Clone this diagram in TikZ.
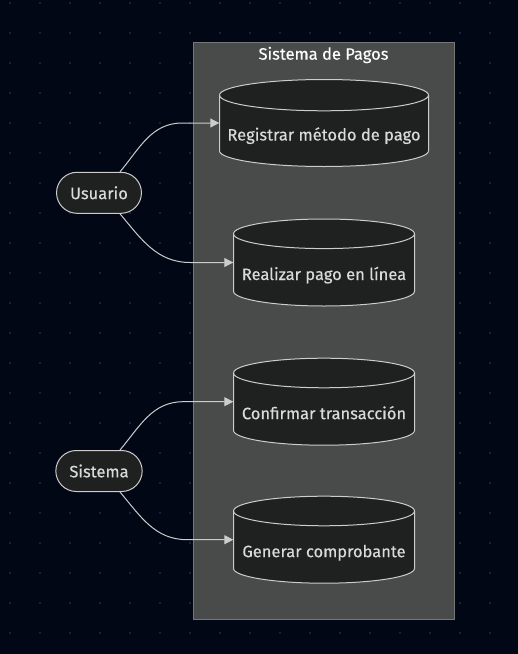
\documentclass[tikz,border=0pt]{standalone}
\usepackage{fontspec}
\setmainfont{Fira Sans}[BoldFont={Fira Sans}, BoldFeatures={FakeBold=0.35}]
\usetikzlibrary{shapes.misc,arrows.meta}
\definecolor{bgnavy}{RGB}{2,7,22}
\definecolor{gridpt}{RGB}{38,44,60}
\definecolor{clusterbg}{RGB}{73,74,74}
\definecolor{clusterln}{RGB}{118,120,120}
\definecolor{nodebg}{RGB}{31,32,32}
\definecolor{nodeln}{RGB}{204,204,204}
\definecolor{nodetxt}{RGB}{218,218,218}
\definecolor{titletxt}{RGB}{249,255,254}
\tikzset{
  actor/.style={rounded rectangle, draw=nodeln, fill=nodebg, text=nodetxt, line width=1pt,
    minimum height=41pt, minimum width=82pt, inner xsep=12.5pt, inner ysep=0pt},
  drum/.style={draw=nodeln, fill=nodebg, line width=1pt},
  drumrim/.style={draw=nodeln, line width=1pt},
  store/.style={text=nodetxt, inner sep=0pt, minimum height=87pt, text height=35pt, text depth=0pt},
  cluster/.style={draw=clusterln, fill=clusterbg, line width=1pt, minimum width=261pt,
    minimum height=577pt, inner sep=0pt},
  flow/.style={draw=nodeln, line width=1pt, -{Triangle[length=9pt,width=9pt]}}
}
\begin{document}
\begin{tikzpicture}[x=1pt,y=1pt,font=\fontsize{16.5}{19}\selectfont\bfseries]
\fill [bgnavy] (0,0) rectangle (518,-654);
\useasboundingbox (0,0) rectangle (518,-654);
\foreach \x in {10,40,...,490}
  \foreach \y in {-3,-33,...,-633}
    \fill [gridpt] (\x,\y) circle (1.2);
\node [cluster] (pagos) at (323.5,-330.5) {};
\node [text=titletxt] (titulo) at (323.5,-55) {Sistema de Pagos};
\foreach \nm/\cy/\rx/\txt in {reg/-123/104.5/{Registrar método de pago},
    rea/-262.5/90.5/{Realizar pago en línea},
    conf/-401.7/90.5/{Confirmar transacción},
    gen/-539.7/90.5/{Generar comprobante}} {
  \pgfmathsetmacro\ry{\rx/(2.5+\rx/25)}
  \draw [drum] (324-\rx,\cy+43.5-\ry) -- (324-\rx,\cy-43.5+\ry)
    arc [start angle=180, end angle=360, x radius=\rx, y radius=\ry]
    -- (324+\rx,\cy+43.5-\ry)
    arc [start angle=0, end angle=180, x radius=\rx, y radius=\ry] -- cycle;
  \draw [drumrim] (324-\rx,\cy+43.5-\ry) arc [start angle=180, end angle=360, x radius=\rx, y radius=\ry];
  \node [store, minimum width=2*\rx] (\nm) at (324,\cy) {\txt};
}
\node [actor] (usuario) at (99,-192.8) {Usuario};
\node [actor] (sistema) at (99,-471) {Sistema};
\draw [flow] ([xshift=21pt]usuario.north) to[out=50,in=180] ([xshift=-37pt]reg.west) -- (reg.west);
\draw [flow] ([xshift=21pt]usuario.south) to[out=-50,in=180] ([xshift=-43pt]rea.west) -- (rea.west);
\draw [flow] ([xshift=21pt]sistema.north) to[out=50,in=180] ([xshift=-50pt]conf.west) -- (conf.west);
\draw [flow] ([xshift=21pt]sistema.south) to[out=-50,in=180] ([xshift=-46pt]gen.west) -- (gen.west);
\end{tikzpicture}
\end{document}
